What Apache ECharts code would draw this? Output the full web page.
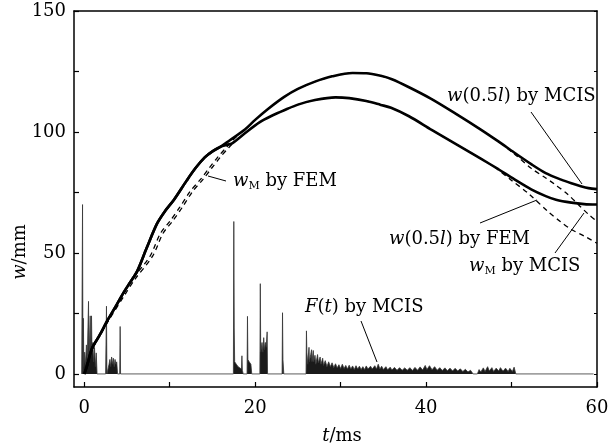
<!DOCTYPE html>
<html><head><meta charset="utf-8">
<script src="https://cdn.jsdelivr.net/npm/echarts@6/dist/echarts.min.js"></script>
<style>html,body{margin:0;padding:0;background:#fff}#c{width:614px;height:448px}</style>
</head><body><div id="c"></div>
<script>
// ---- axis ticks / labels ----
const xTicks = [0, 10, 20, 30, 40, 50, 60];
const xLabels = [0, 20, 40, 60];
const yTicks = [0, 25, 50, 75, 100, 125, 150];
const yLabels = [0, 50, 100, 150];

// ---- w(0.5l) by MCIS  [t (ms), w (mm)] ----
const mcisMid = [[0,0],[0.3,3],[0.9,10.5],[1.8,16],[2.7,22],[3.7,28],[4.6,33.6],[5.4,38],[6.2,42.5],[7.3,52],[8.5,62],[9.5,67.5],[10.5,72],[12,80],[13,85],[14.1,89.5],[15,92],[16,94],[17,96.5],[18.8,101],[20,105],[21.5,109.5],[23.4,114.5],[25,117.8],[27,120.8],[29,123],[31.4,124.4],[33,124.3],[34.7,123.2],[36,121.8],[38,118.5],[40.6,113.7],[43.5,107.5],[46.4,101],[48.5,96],[50.3,91.5],[52.3,86.7],[54,83],[55.8,80.3],[57,78.8],[58.1,77.6],[59,76.8],[60,76.4]];

// ---- w_M by MCIS ----
const mcisM = [[0,0],[0.3,3],[0.9,10.5],[1.8,16],[2.7,22],[3.7,28],[4.6,33.6],[5.4,38],[6.2,42.5],[7.3,52],[8.5,62],[9.5,67.5],[10.5,72],[12,80],[13,85],[14.1,89.5],[15,92],[16,94],[16.6,94.6],[17.3,95.3],[18.8,99.5],[20.5,104],[22,106.8],[23.4,109],[25,111.3],[27,113.2],[29.4,114.3],[31,114],[33,112.8],[34.7,111.2],[35.9,110],[38,106.5],[40.6,101],[43.5,95],[46.4,89],[48.5,84.5],[50.3,80.5],[52.3,76.3],[54,73.5],[55.2,72],[57,70.8],[58.5,70.2],[60,70]];

// ---- w(0.5l) by FEM ----
const femMid = [[0,0],[0.9,10],[2.7,21.5],[4.6,33],[5.6,39],[7.7,48.7],[8.9,58],[10.1,63.5],[11.2,69],[12.4,75.5],[13.6,80.4],[14.6,85],[15.6,89.5],[16.6,93.5],[17.5,97],[18.8,101],[20,105],[21.5,109.5],[23.4,114.5],[25,117.8],[27,120.8],[29,123],[31.4,124.4],[33,124.3],[34.7,123.2],[36,121.8],[38,118.5],[40.6,113.7],[43.5,107.5],[46.4,101],[48.5,96],[50.3,91],[52.3,85],[54,81],[55,78.5],[56.5,74.5],[58.1,69],[59,66],[60,63]];

// ---- w_M by FEM ----
const femM = [[0,0],[0.9,10],[2.7,21.2],[4.8,33],[5.9,39],[8.0,48.7],[9.2,58],[10.4,63.5],[11.5,69],[12.7,75.5],[13.9,80.4],[14.9,85],[15.9,89.5],[16.9,93.5],[17.4,95.3],[18.8,99.5],[20.5,104],[22,106.8],[23.4,109],[25,111.3],[27,113.2],[29.4,114.3],[31,114],[33,112.8],[34.7,111.2],[35.9,110],[38,106.5],[40.6,101],[43.5,95],[46.4,89],[48,85.5],[50,80],[52,74.5],[54.3,67],[55.7,63],[57,59.7],[58.5,57],[60,54]];

// ---- F(t) by MCIS (impact force trace) ----
const forceF = [[-0.3,0],[-0.2,70],[-0.15,0],[-0.1,23],[-0.05,3],[0.05,9],[0.15,4],[0.25,12],[0.35,5],[0.5,30],[0.55,6],[0.7,24],[0.75,8],[0.85,24],[0.9,10],[1.0,13],[1.1,5],[1.2,11],[1.3,3],[1.4,8.7],[1.5,0],[2.5,0],[2.6,28],[2.65,0],[2.8,0],[2.9,4],[3.0,6],[3.1,3],[3.2,7],[3.3,4],[3.4,6.5],[3.5,3],[3.6,6],[3.7,4],[3.8,5],[3.9,0],[4.15,0],[4.2,19.6],[4.25,0],
[17.45,0],[17.5,63],[17.55,19],[17.6,5],[17.8,4],[18,3],[18.2,2.5],[18.4,2],[18.45,7.5],[18.5,1.5],[18.6,0],[19.05,0],[19.1,23.8],[19.15,6],[19.3,5],[19.5,4],[19.6,0],
[20.55,0],[20.6,37.3],[20.65,9],[20.8,13],[20.9,9],[21.0,15],[21.1,10],[21.2,13],[21.3,11],[21.4,17.4],[21.45,0],
[23.15,0],[23.2,25.3],[23.25,6],[23.35,0],
[25.95,0],[26,17.8],[26.05,9],[26.15,4],[26.3,11],[26.35,5],[26.5,8],[26.6,10],[26.65,5],[26.8,9.7],[26.85,5],[27.0,7.7],[27.1,4],[27.3,8],[27.4,4.5],[27.6,7],[27.7,4],[27.9,6.5],[28.0,3.5],[28.2,5.5],[28.4,3],[28.6,5],[28.8,3],[29,4.6],[29.2,2.6],[29.4,4.2],[29.6,2.5],[29.8,3.8],[30.0,2.2],[30.2,4],[30.4,2.2],[30.6,3.5],[30.8,2],[31,3.6],[31.2,2],[31.4,3.3],[31.6,1.8],[31.8,3.4],[32,2],[32.2,3.2],[32.4,1.8],[32.6,3],[32.8,1.8],[33,3.3],[33.2,2],[33.5,3.2],[33.7,2],[34.0,3.4],[34.2,2],[34.4,4.0],[34.6,2],[34.8,3.2],[35,1.8],[35.3,3],[35.5,1.7],[35.8,2.8],[36,1.6],[36.3,2.7],[36.6,1.5],[36.9,2.6],[37.2,1.5],[37.5,2.5],[37.8,1.5],[38.1,2.6],[38.4,1.4],[38.7,2.7],[39,1.5],[39.3,2.9],[39.6,1.6],[39.9,3.5],[40.1,1.8],[40.4,3.4],[40.7,1.7],[41,3],[41.3,1.5],[41.6,2.6],[41.9,1.4],[42.2,2.5],[42.5,1.3],[42.8,2.4],[43.1,1.2],[43.4,2.3],[43.7,1.2],[44.0,2.1],[44.3,1],[44.6,1.9],[44.9,0.8],[45.2,1.5],[45.5,0],[46.0,0],[46.2,1.8],[46.4,0.8],[46.7,2.5],[46.9,1],[47.2,3],[47.4,1.2],[47.7,2.6],[47.9,1],[48.2,2.4],[48.5,1.2],[48.7,2.6],[49,1.1],[49.3,2.4],[49.6,1],[49.8,2.3],[50.1,1],[50.3,2.8],[50.5,0],[59.6,0]];

const FONT = 'DejaVu Serif';
const rich = {
  i: {fontFamily: FONT, fontSize: 18, fontStyle: 'italic', lineHeight: 22},
  n: {fontFamily: FONT, fontSize: 18, lineHeight: 22},
  s: {fontFamily: FONT, fontSize: 11, verticalAlign: 'bottom', lineHeight: 11}
};
function txt(text, x, y, opts) {
  return Object.assign({
    type: 'text', x: x, y: y, z: 100,
    style: {text: text, rich: rich, fill: '#000', font: '18px "DejaVu Serif"',
            align: 'left', verticalAlign: 'middle'}
  }, opts || {});
}
function lead(x1, y1, x2, y2) {
  return {type: 'line', z: 100, shape: {x1, y1, x2, y2}, style: {stroke: '#000', lineWidth: 1}};
}

const chart = echarts.init(document.getElementById('c'), null, {renderer: 'canvas'});
const axisBase = {
  type: 'value', splitLine: {show: false},
  axisLine: {show: true, onZero: false, lineStyle: {color: '#000', width: 1.5}}
};
chart.setOption({
  animation: false,
  backgroundColor: '#fff',
  grid: {left: 74, top: 11, width: 523, height: 376},
  xAxis: [
    Object.assign({}, axisBase, {
      min: -1.2, max: 60, position: 'bottom',
      axisTick: {show: true, inside: true, length: 5, customValues: xTicks, lineStyle: {color: '#000', width: 1.2}},
      axisLabel: {customValues: xLabels, margin: 12, fontFamily: FONT, fontSize: 18, color: '#000'}
    }),
    Object.assign({}, axisBase, {
      min: -1.2, max: 60, position: 'top',
      axisTick: {show: false}, axisLabel: {show: false}
    })
  ],
  yAxis: [
    Object.assign({}, axisBase, {
      min: -5.4, max: 150, position: 'left',
      axisTick: {show: true, inside: true, length: 5, customValues: yTicks, lineStyle: {color: '#000', width: 1.2}},
      axisLabel: {customValues: yLabels, margin: 8, fontFamily: FONT, fontSize: 18, color: '#000'}
    }),
    Object.assign({}, axisBase, {
      min: -5.4, max: 150, position: 'right',
      axisTick: {show: true, inside: true, length: 3, customValues: yTicks, lineStyle: {color: '#000', width: 1}},
      axisLabel: {show: false}
    })
  ],
  series: [
    {name: 'F(t) by MCIS', type: 'line', data: forceF, showSymbol: false, z: 1,
     lineStyle: {color: '#333', width: 0.8}, areaStyle: {color: '#1a1a1a', opacity: 1}},
    {name: 'w(0.5l) by FEM', type: 'line', data: femMid, showSymbol: false, smooth: 0.3, z: 2,
     lineStyle: {color: '#000', width: 1.3, type: [5, 4]}},
    {name: 'w_M by FEM', type: 'line', data: femM, showSymbol: false, smooth: 0.3, z: 2,
     lineStyle: {color: '#000', width: 1.3, type: [5, 4]}},
    {name: 'w(0.5l) by MCIS', type: 'line', data: mcisMid, showSymbol: false, smooth: 0.3, z: 3,
     lineStyle: {color: '#000', width: 2.6}},
    {name: 'w_M by MCIS', type: 'line', data: mcisM, showSymbol: false, smooth: 0.3, z: 3,
     lineStyle: {color: '#000', width: 2.6}}
  ],
  graphic: [
    txt('{i|w}{n|(0.5}{i|l}{n|) by MCIS}', 447, 96),
    lead(531, 112, 582, 184),
    txt('{i|w}{s|M}{n| by FEM}', 233, 181),
    lead(208, 176, 226, 181),
    txt('{i|w}{n|(0.5}{i|l}{n|) by FEM}', 389, 239),
    lead(480, 223, 537, 200),
    txt('{i|w}{s|M}{n| by MCIS}', 469, 266),
    lead(555, 253, 584, 213),
    txt('{i|F}{n|(}{i|t}{n|) by MCIS}', 305, 307),
    lead(361, 321, 377, 362),
    txt('{i|w}{n|/mm}', 20, 252, {rotation: Math.PI / 2, style: {text: '{i|w}{n|/mm}', rich: rich, fill: '#000', font: '18px "DejaVu Serif"', align: 'center', verticalAlign: 'middle'}}),
    txt('{i|t}{n|/ms}', 342, 436, {style: {text: '{i|t}{n|/ms}', rich: rich, fill: '#000', font: '18px "DejaVu Serif"', align: 'center', verticalAlign: 'middle'}})
  ]
});
</script></body></html>
